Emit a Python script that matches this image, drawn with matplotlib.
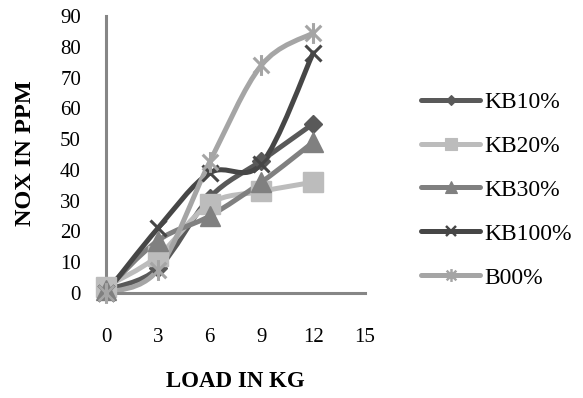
import numpy as np
import matplotlib
matplotlib.use("Agg")
import matplotlib.pyplot as plt
from matplotlib.path import Path
from matplotlib.patches import PathPatch
from matplotlib.lines import Line2D

# Engine load (kg) and NOx emission (ppm) per blend
load = [0, 3, 6, 9, 12]
series_names = ["KB10%", "KB20%", "KB30%", "KB100%", "B00%"]
kb10 = [1, 8, 31, 43, 55]
kb20 = [2, 12, 29, 33, 36]
kb30 = [1, 17, 25, 36, 49]
kb100 = [0, 21, 39, 42, 78]
b00 = [0, 7.5, 42.5, 74, 84.5]
x_ticks = [0, 3, 6, 9, 12, 15]
y_ticks = [0, 10, 20, 30, 40, 50, 60, 70, 80, 90]

plt.rcParams["font.family"] = ["Liberation Serif", "DejaVu Serif"]

# asterisk marker: vertical bar plus an X
asterisk = Path([(0, -1), (0, 1), (-0.75, -0.75), (0.75, 0.75), (-0.75, 0.75), (0.75, -0.75)],
                [Path.MOVETO, Path.LINETO, Path.MOVETO, Path.LINETO, Path.MOVETO, Path.LINETO])

styles = [
    dict(color="#595959", marker="D", ms=9),
    dict(color="#bcbcbc", marker="s", ms=14),
    dict(color="#808080", marker="^", ms=14),
    dict(color="#464646", marker="x", ms=12, mew=2.2),
    dict(color="#a5a5a5", marker=asterisk, ms=15, mew=2.2),
]
values = [kb10, kb20, kb30, kb100, b00]


def smooth_path(xs, ys):
    """Cubic Bezier through the points (Catmull-Rom style smoothing)."""
    pts = np.column_stack([xs, ys]).astype(float)
    n = len(pts)
    verts = [pts[0]]
    codes = [Path.MOVETO]
    for i in range(n - 1):
        p0 = pts[i - 1] if i > 0 else pts[i]
        p1 = pts[i]
        p2 = pts[i + 1]
        p3 = pts[i + 2] if i + 2 < n else pts[i + 1]
        c1 = p1 + (p2 - p0) / 6.0
        c2 = p2 - (p3 - p1) / 6.0
        verts += [c1, c2, p2]
        codes += [Path.CURVE4] * 3
    return Path(verts, codes)


fig = plt.figure(figsize=(5.83, 3.98), dpi=100)
ax = fig.add_axes([106 / 583, 1 - 293 / 398, 259 / 583, 277 / 398])

lw = 3.6
handles = []
for name, ys, st in zip(series_names, values, styles):
    patch = PathPatch(smooth_path(load, ys), fill=False, edgecolor=st["color"],
                      lw=lw, capstyle="round", joinstyle="round", zorder=2)
    ax.add_patch(patch)
    ax.plot(load, ys, linestyle="none", marker=st["marker"], ms=st["ms"],
            color=st["color"], mec=st["color"], mew=st.get("mew", 1), zorder=3,
            clip_on=False)
    handles.append(Line2D([], [], color=st["color"], lw=lw, marker=st["marker"],
                          ms=st["ms"] * 0.62, mew=st.get("mew", 1) * 0.8,
                          mec=st["color"], solid_capstyle="round"))

ax.set_xlim(0, 15)
ax.set_ylim(0, 90)
ax.set_xticks(x_ticks)
ax.set_yticks(y_ticks)
ax.tick_params(axis="both", length=0, labelsize=15)
ax.tick_params(axis="x", pad=25)
ax.tick_params(axis="y", pad=18)

for s in ["top", "right"]:
    ax.spines[s].set_visible(False)
for s in ["left", "bottom"]:
    ax.spines[s].set_color("#868686")
    ax.spines[s].set_linewidth(2.2)

ax.set_xlabel("LOAD IN KG", fontsize=16.5, fontweight="bold")
ax.xaxis.set_label_coords(0.5, -0.28)
ax.set_ylabel("NOX IN PPM", fontsize=17.5, fontweight="bold")
ax.yaxis.set_label_coords(-0.27, 0.505)

fig.legend(handles, series_names, loc="center left",
           bbox_to_anchor=(421 / 583, 1 - 190 / 398), bbox_transform=fig.transFigure,
           frameon=False, fontsize=17, handlelength=2.5, handletextpad=0.2,
           labelspacing=0.95, borderpad=0, borderaxespad=0)

fig.savefig("out.png", dpi=100)
